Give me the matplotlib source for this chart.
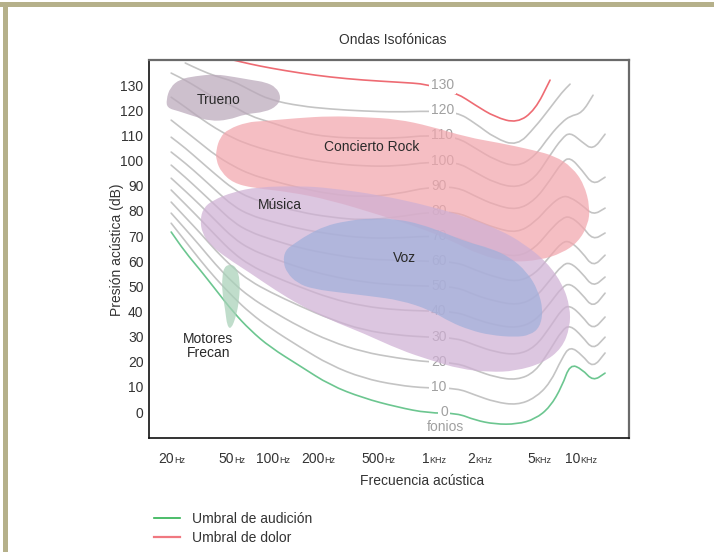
import numpy as np
import matplotlib.pyplot as plt
from matplotlib.path import Path
from matplotlib.patches import PathPatch, Rectangle
from matplotlib.lines import Line2D
from matplotlib.ticker import NullLocator
import matplotlib.transforms as mtransforms

plt.rcParams['font.family'] = ['Liberation Sans', 'DejaVu Sans']

nan = np.nan

CONTOUR_FREQ = [19.1, 23.7, 29.8, 37.5, 49.4, 64.0, 87.0, 137.6, 217.8, 361, 608, 977,
                1522, 2006, 2724, 3817, 5029, 6325, 7600, 8590, 10322, 12216, 14684]

# sound pressure level (dB) of each contour, phon level -> values
CONTOURS = {
    0: [71.6, 63.6, 56.5, 48.9, 39.8, 32.6, 25.8, 18.3, 10.7, 5.6, 2.0, -0.4,
        -0.4, -3.2, -4.8, -4.8, -2.8, 2.0, 10.3, 19.1, 17.1, 12.3, 15.5],
    10: [75.1, 68.0, 60.4, 53.3, 45.7, 39.4, 33.4, 25.8, 18.7, 13.5, 10.7, 9.5,
         9.5, 6.8, 4.0, 2.8, 5.6, 11.5, 21.5, 26.2, 22.7, 17.5, 23.5],
    20: [79.1, 72.8, 66.0, 58.8, 51.3, 45.7, 40.6, 33.8, 28.2, 23.9, 21.5, 19.9,
         19.5, 16.7, 13.9, 12.7, 15.9, 24.7, 32.6, 34.6, 30.2, 24.7, 29.8],
    30: [83.5, 77.5, 71.2, 64.4, 57.3, 52.1, 47.7, 42.1, 37.0, 32.6, 30.6, 29.8,
         29.4, 26.6, 23.9, 22.7, 25.8, 33.8, 41.0, 42.5, 38.2, 32.6, 37.8],
    40: [88.3, 82.7, 76.7, 70.4, 63.2, 58.4, 54.5, 49.7, 45.3, 42.1, 40.6, 40.2,
         39.8, 37.0, 34.6, 33.4, 36.2, 43.3, 49.7, 51.3, 46.9, 41.4, 47.3],
    50: [93.0, 87.9, 82.3, 76.3, 69.2, 64.8, 61.6, 57.3, 54.1, 51.7, 50.5, 50.1,
         49.7, 46.5, 44.1, 42.5, 45.3, 52.5, 58.4, 59.6, 55.3, 49.7, 53.7],
    60: [98.2, 93.4, 87.9, 82.3, 75.5, 71.6, 68.8, 65.2, 62.8, 60.8, 60.4, 60.0,
         59.6, 56.5, 53.7, 51.7, 54.9, 62.0, 67.6, 68.0, 63.6, 57.7, 62.4],
    70: [103.4, 99.0, 93.8, 88.3, 81.9, 78.3, 75.9, 72.8, 70.8, 69.2, 69.2, 70.0,
         69.6, 66.4, 63.6, 61.6, 65.2, 72.4, 77.1, 77.9, 74.0, 68.4, 71.2],
    80: [109.3, 105.0, 99.8, 94.6, 88.7, 85.1, 82.7, 79.5, 77.5, 76.3, 77.5, 79.5,
         79.5, 76.3, 73.2, 71.2, 75.5, 82.3, 85.9, 85.5, 82.3, 78.3, 81.1],
    90: [116.1, 111.7, 107.0, 102.2, 97.8, 94.6, 92.2, 89.1, 86.7, 85.5, 86.7, 89.5,
         89.5, 85.9, 82.3, 80.3, 84.3, 92.2, 99.4, 101.4, 96.2, 90.3, 93.4],
    100: [125.2, 121.3, 116.9, 112.9, 108.9, 106.2, 103.8, 101.0, 99.0, 97.8, 97.8, 99.4,
          99.4, 95.4, 91.1, 89.1, 93.0, 102.2, 108.9, 111.3, 107.4, 104.2, 110.5],
    110: [134.8, 132.0, 128.4, 124.8, 121.7, 117.7, 115.3, 111.3, 109.3, 108.9, 108.9, 110.1,
          109.3, 105.0, 100.2, 97.4, 101.8, 110.1, 115.3, 117.7, 118.9, 126.0, nan],
    120: [nan, 138.8, 136.0, 133.6, 131.6, 128.0, 124.1, 121.7, 120.5, 119.7, 119.3, 119.7,
          119.3, 114.9, 108.9, 105.8, 113.3, 120.9, 127.2, 130.4, nan, nan, nan],
    130: [nan, nan, nan, nan, 140.0, 138.4, 136.8, 134.8, 133.2, 132.0, 131.2, 130.4,
          126.8, 122.1, 117.3, 114.9, 120.1, 132.0, nan, nan, nan, nan, nan],
}

# outlines of the sound regions (Hz, dB)
TRUENO_F = [17.7, 18.8, 21.9, 27.6, 37.5, 50.9, 66.0, 80.6, 95.3, 102.9, 96.8, 80.6,
            59.3, 45.7, 34.7, 26.8, 21.3, 18.0]
TRUENO_DB = [124.1, 129.2, 132.4, 133.6, 134.4, 133.2, 132.0, 131.2, 129.2, 125.2, 121.7,
             119.3, 118.5, 116.1, 115.7, 117.7, 119.7, 120.9]

ROCK_F = [38.0, 40.4, 45.7, 61.2, 78.1, 131.5, 217.8, 361.2, 607.8, 1007, 1775, 2942,
          4876, 6830, 8860, 10644, 11668, 11316, 9714, 7600, 5428, 3428, 2166, 1368,
          864, 468.6, 217.8, 118.1, 67.0, 49.4, 41.1, 38.0]
ROCK_DB = [104.2, 109.3, 112.5, 115.3, 115.7, 116.9, 117.7, 117.3, 116.5, 113.7, 109.3,
           107.0, 104.2, 101.8, 97.4, 90.7, 81.5, 74.4, 67.6, 63.2, 60.4, 59.6, 62.4,
           68.4, 73.2, 78.3, 84.3, 87.5, 89.1, 91.1, 95.4, 100.2]

MUSICA_F = [29.8, 31.2, 36.3, 49.4, 71.3, 137.7, 217.8, 468.6, 1007, 1775, 2942, 4184,
            6040, 7718, 8590, 8590, 7600, 5684, 3702, 2524, 1595, 1007, 636.4, 361.2,
            217.8, 137.7, 93.9, 64.0, 45.0, 34.7, 30.7]
MUSICA_DB = [76.3, 81.1, 84.3, 87.5, 89.5, 89.9, 89.1, 86.3, 81.9, 77.5, 72.4, 67.2,
             59.6, 50.5, 41.7, 33.8, 25.4, 19.5, 16.3, 15.9, 17.1, 20.7, 24.7, 31.4,
             36.6, 42.5, 48.5, 55.3, 61.2, 66.4, 71.2]

VOZ_F = [106.1, 109.4, 127.5, 153.2, 201.8, 274.2, 402, 607.8, 864, 1268, 1775, 2524,
         3428, 4448, 5264, 5684, 5428, 4656, 3702, 2524, 1858, 1368, 1007, 636.4,
         402, 274.2, 168.0, 131.5, 112.8]
VOZ_DB = [59.6, 64.4, 67.2, 70.4, 74.0, 75.9, 77.1, 76.7, 74.8, 71.2, 67.6, 65.2,
          61.6, 55.7, 48.5, 40.6, 33.8, 30.6, 29.8, 30.6, 32.6, 35.8, 40.6, 44.5,
          46.1, 47.3, 48.9, 51.3, 55.3]

MOTORES_F = [43.0, 47.1, 51.7, 54.9, 54.1, 51.7, 47.9, 45.0, 43.7, 41.7, 41.7]
MOTORES_DB = [57.7, 58.8, 57.7, 52.5, 44.5, 38.2, 33.0, 34.2, 40.6, 47.7, 53.7]

REGION_NAMES = ['Trueno', 'Concierto Rock', 'Música', 'Voz', 'Motores\nFrecan']
REGION_LABEL_F = [39.8, 414.6, 101.3, 676, 33.7]
REGION_LABEL_DB = [124.1, 105.4, 82.3, 61.2, 26.2]

TICK_FREQ = [20, 50, 100, 200, 500, 1000, 2000, 5000, 10000]
TICK_NUM = ['20', '50', '100', '200', '500', '1', '2', '5', '10']
TICK_UNIT = ['Hz', 'Hz', 'Hz', 'Hz', 'Hz', 'KHz', 'KHz', 'KHz', 'KHz']
Y_TICKS = list(range(0, 140, 10))

PHON_LABEL_F = 1023
ZERO_LABEL_F = 1174


def smooth_path(freqs, dbs, closed=False):
    # quadratic b-spline through the read points, done in log-frequency space
    lx = np.log10(np.asarray(freqs, float))
    y = np.asarray(dbs, float)
    if closed:
        mx = (lx + np.roll(lx, -1)) / 2
        my = (y + np.roll(y, -1)) / 2
        verts = [(mx[-1], my[-1])]
        codes = [Path.MOVETO]
        for i in range(len(lx)):
            verts += [(lx[i], y[i]), (mx[i], my[i])]
            codes += [Path.CURVE3, Path.CURVE3]
        verts.append(verts[0])
        codes.append(Path.CLOSEPOLY)
    else:
        mx = (lx[:-1] + lx[1:]) / 2
        my = (y[:-1] + y[1:]) / 2
        verts = [(lx[0], y[0]), (mx[0], my[0])]
        codes = [Path.MOVETO, Path.LINETO]
        for i in range(1, len(lx) - 1):
            verts += [(lx[i], y[i]), (mx[i], my[i])]
            codes += [Path.CURVE3, Path.CURVE3]
        verts.append((lx[-1], y[-1]))
        codes.append(Path.LINETO)
    v = np.array(verts)
    v[:, 0] = 10 ** v[:, 0]
    return Path(v, codes)


fig = plt.figure(figsize=(7.14, 5.52), dpi=100)
ax = fig.add_axes([149 / 714, 114 / 552, 480 / 714, 378 / 552])
ax.set_xscale('log')

# contours
freq = np.array(CONTOUR_FREQ)
for phon, vals in CONTOURS.items():
    vals = np.array(vals, float)
    if phon == 0:
        col = '#6cc690'
    elif phon == 130:
        col = '#ee6b73'
    else:
        col = '#c4c4c4'
    ok = ~np.isnan(vals)
    ax.add_patch(PathPatch(smooth_path(freq[ok], vals[ok]), facecolor='none',
                           edgecolor=col, lw=1.2, capstyle='round', zorder=2))
    lab_f = ZERO_LABEL_F if phon == 0 else PHON_LABEL_F
    ax.text(lab_f, phon, str(phon), ha='left', va='center', fontsize=10,
            color='#a0a0a0', zorder=3,
            bbox=dict(boxstyle='square,pad=0.15', fc='white', ec='none'))

ax.text(1268, -6.0, 'fonios', ha='center', va='center', fontsize=10,
        color='#a0a0a0', zorder=3)

# sound regions
regions = [
    (TRUENO_F, TRUENO_DB, (0.73, 0.66, 0.73)),
    (ROCK_F, ROCK_DB, (0.95, 0.65, 0.68)),
    (MUSICA_F, MUSICA_DB, (0.81, 0.69, 0.83)),
    (VOZ_F, VOZ_DB, (0.63, 0.69, 0.86)),
    (MOTORES_F, MOTORES_DB, (0.66, 0.82, 0.72)),
]
for rf, rdb, col in regions:
    ax.add_patch(PathPatch(smooth_path(rf, rdb, closed=True), facecolor=col,
                           edgecolor='none', alpha=0.72, zorder=4))

for name, f, db in zip(REGION_NAMES, REGION_LABEL_F, REGION_LABEL_DB):
    ax.text(f, db, name, ha='center', va='center', fontsize=10, color='#2a2a2a',
            zorder=5, linespacing=1.05)

ax.set_xlim(13.6, 21190)
ax.set_ylim(-10.3, 140)

ax.set_yticks(Y_TICKS)
ax.tick_params(axis='y', length=0, pad=4, labelsize=10, labelcolor='#333333')
ax.set_xticks([])
ax.xaxis.set_minor_locator(NullLocator())

trans = mtransforms.blended_transform_factory(ax.transData, ax.transAxes)
for f, num, unit in zip(TICK_FREQ, TICK_NUM, TICK_UNIT):
    ax.text(f, -0.066, num, transform=trans, ha='right', va='baseline',
            fontsize=10, color='#333333')
    ax.text(f, -0.066, unit, transform=trans, ha='left', va='baseline',
            fontsize=6.5, color='#333333')

for side in ['left', 'bottom']:
    ax.spines[side].set_color('#111111')
    ax.spines[side].set_linewidth(1.2)
for side in ['top', 'right']:
    ax.spines[side].set_color('#6a6a6a')
    ax.spines[side].set_linewidth(1.6)

fig.text(393 / 714, 1 - 40 / 552, 'Ondas Isofónicas', ha='center', va='center',
         fontsize=10, color='#333333')
fig.text(117 / 714, 1 - 250 / 552, 'Presión acústica (dB)', rotation=90,
         ha='center', va='center', fontsize=10, color='#333333')
fig.text(422 / 714, 1 - 481 / 552, 'Frecuencia acústica', ha='center', va='center',
         fontsize=10, color='#333333')

handles = [Line2D([], [], color='#2eb150', lw=1.2),
           Line2D([], [], color='#f07880', lw=1.6)]
fig.legend(handles, ['Umbral de audición', 'Umbral de dolor'], loc='upper left',
           bbox_to_anchor=(154 / 714, 1 - 512 / 552), frameon=False, fontsize=10,
           handlelength=1.9, handletextpad=0.8, labelspacing=0.35,
           borderpad=0, borderaxespad=0, labelcolor='#333333')

# khaki frame of the page
fig.add_artist(Rectangle((0, 1 - 7 / 552), 1, 5 / 552, transform=fig.transFigure,
                         color='#b5b08a', lw=0))
fig.add_artist(Rectangle((3 / 714, 0), 5 / 714, 1 - 2 / 552, transform=fig.transFigure,
                         color='#b5b08a', lw=0))

fig.savefig('out.png', dpi=100)
